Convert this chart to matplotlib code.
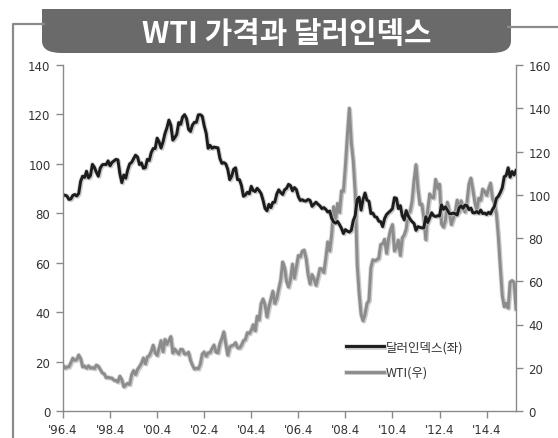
import matplotlib
matplotlib.use("Agg")
import matplotlib.pyplot as plt
import matplotlib.patheffects as pe
from matplotlib.patches import FancyBboxPatch, Rectangle
from matplotlib.lines import Line2D
import numpy as np

plt.rcParams['font.family'] = ['Noto Sans CJK KR', 'DejaVu Sans']

# monthly, 1996.04 - 2015.07 (month-end values)
dollar_index = [
    87.5, 87.3, 87.0, 85.6, 85.8, 87.2, 87.6, 87.0, 88.0,                     # 1996
    93.0, 95.0, 94.5, 97.0, 94.3, 95.3, 99.8, 98.6, 96.6, 95.0, 98.3, 99.6,   # 1997
    99.8, 99.7, 101.2, 99.2, 100.6, 101.2, 101.8, 101.6, 96.0, 92.4, 95.5, 94.2,  # 1998
    97.6, 100.0, 100.6, 102.1, 103.5, 102.8, 99.7, 100.4, 98.2, 98.5, 101.8, 101.4,  # 1999
    104.6, 106.2, 106.2, 110.4, 108.9, 106.4, 108.9, 112.3, 114.6, 117.7, 115.6, 109.6,  # 2000
    110.6, 112.0, 116.7, 116.0, 119.0, 119.9, 118.3, 114.0, 113.1, 115.7, 116.8, 116.8,  # 2001
    119.8, 119.9, 119.3, 115.4, 112.4, 106.3, 107.5, 106.3, 106.8, 106.6, 106.5, 102.2,  # 2002
    100.2, 100.5, 100.0, 97.8, 93.6, 95.0, 97.8, 98.4, 93.6, 93.6, 91.2, 86.9,  # 2003
    87.4, 88.5, 87.9, 90.9, 89.2, 88.8, 90.1, 89.2, 88.0, 85.3, 82.0, 81.0,     # 2004
    83.6, 82.3, 84.4, 84.5, 87.8, 89.5, 88.4, 87.6, 89.5, 90.1, 91.7, 91.2,     # 2005
    89.1, 90.4, 89.6, 86.7, 85.2, 85.5, 85.0, 85.0, 85.6, 85.2, 82.8, 83.7,     # 2006
    84.5, 83.7, 83.0, 81.9, 82.3, 81.6, 80.5, 80.9, 78.0, 76.5, 76.0, 76.7,     # 2007
    75.4, 73.9, 71.8, 73.4, 72.8, 72.4, 73.1, 77.0, 79.0, 85.6, 86.5, 81.3,     # 2008
    85.6, 88.2, 85.3, 84.9, 79.9, 80.1, 78.6, 78.4, 76.8, 76.6, 74.6, 77.9,     # 2009
    79.5, 80.3, 81.0, 81.9, 86.3, 86.1, 81.9, 83.1, 79.0, 77.3, 81.1, 79.0,     # 2010
    77.6, 76.6, 75.9, 73.1, 74.6, 74.3, 74.1, 74.1, 78.6, 76.3, 78.3, 80.2,     # 2011
    79.0, 78.7, 79.0, 78.9, 83.4, 81.6, 82.6, 81.3, 79.9, 79.8, 80.1, 79.8,     # 2012
    79.3, 82.2, 83.0, 82.0, 83.3, 83.1, 81.5, 82.1, 80.2, 80.2, 80.7, 80.0,     # 2013
    81.3, 79.9, 80.1, 79.5, 80.4, 79.8, 81.5, 82.8, 86.0, 86.9, 88.4, 90.3,     # 2014
    94.8, 95.3, 98.4, 94.6, 96.9, 95.5, 97.3,                                   # 2015
]

wti = [
    21.2, 19.8, 20.4, 20.4, 22.3, 24.4, 23.4, 23.8, 25.9,                       # 1996
    24.2, 20.4, 20.8, 19.8, 20.9, 19.8, 20.1, 19.6, 21.2, 20.7, 19.2, 17.6,     # 1997
    17.2, 15.4, 15.6, 15.3, 15.2, 14.2, 14.1, 13.4, 16.1, 14.4, 11.2, 12.1,     # 1998
    12.8, 12.3, 16.8, 18.7, 16.8, 19.3, 20.5, 22.1, 24.5, 21.8, 25.0, 25.6,     # 1999
    27.6, 30.4, 26.9, 25.7, 29.0, 32.5, 27.4, 33.1, 30.8, 32.7, 34.4, 26.8,     # 2000
    28.7, 27.4, 26.3, 28.5, 28.4, 26.3, 26.4, 27.2, 23.4, 21.2, 19.4, 19.8,     # 2001
    19.5, 21.7, 26.3, 27.3, 25.3, 26.9, 27.0, 28.9, 30.5, 27.2, 26.9, 31.2,     # 2002
    33.5, 36.6, 31.0, 25.8, 29.6, 30.2, 30.5, 31.6, 29.2, 29.1, 30.4, 32.5,     # 2003
    33.1, 36.2, 35.8, 37.4, 39.9, 37.1, 43.8, 42.1, 49.6, 51.8, 49.1, 43.5,     # 2004
    48.2, 51.8, 55.4, 49.7, 52.0, 56.5, 60.6, 68.9, 66.2, 59.8, 57.3, 61.0,     # 2005
    67.9, 61.4, 66.6, 71.9, 71.3, 73.9, 74.4, 70.3, 62.9, 58.7, 63.1, 61.1,     # 2006
    58.1, 61.8, 65.9, 65.7, 64.0, 70.7, 78.2, 74.0, 81.7, 94.5, 88.7, 96.0,     # 2007
    91.8, 101.8, 101.6, 113.5, 127.4, 140.0, 124.1, 115.5, 100.6, 67.8, 54.4, 44.6,  # 2008
    41.7, 44.8, 49.7, 51.1, 66.3, 69.9, 69.5, 70.0, 70.6, 77.0, 77.3, 79.4,     # 2009
    72.9, 79.7, 83.8, 86.2, 74.0, 75.6, 79.0, 71.9, 80.0, 81.4, 84.1, 91.4,     # 2010
    92.2, 97.0, 106.7, 113.9, 102.7, 95.4, 95.7, 88.8, 79.2, 93.2, 100.4, 98.8,  # 2011
    98.5, 107.1, 103.0, 104.9, 86.5, 85.0, 88.1, 96.5, 92.2, 86.2, 88.9, 91.8,  # 2012
    97.5, 92.1, 97.2, 93.5, 92.0, 96.6, 105.0, 107.7, 102.3, 96.4, 92.7, 98.4,  # 2013
    97.5, 102.6, 101.6, 99.7, 102.7, 105.4, 98.2, 96.0, 91.2, 80.5, 66.2, 53.3,  # 2014
    48.2, 49.8, 47.6, 59.6, 60.3, 59.5, 47.1,                                   # 2015
]

tick_labels = ["'96.4", "'98.4", "'00.4", "'02.4", "'04.4",
               "'06.4", "'08.4", "'10.4", "'12.4", "'14.4"]
title = "WTI 가격과 달러인덱스"
label_dollar = "달러인덱스(좌)"
label_wti = "WTI(우)"

W, H = 558, 439
fig = plt.figure(figsize=(W / 100, H / 100), dpi=100)


def fx(px):
    return px / W


def fy(py):
    return 1 - py / H


# outer frame lines
frame_col = "#8a8a8a"
fig.add_artist(Line2D([fx(13), fx(13), fx(44)], [fy(439), fy(25), fy(25)],
                      transform=fig.transFigure, color=frame_col, lw=1.6))
fig.add_artist(Line2D([fx(508), fx(558)], [fy(28), fy(28)],
                      transform=fig.transFigure, color=frame_col, lw=1.6))

# title banner with rounded bottom corners
banner = FancyBboxPatch((fx(42), fy(54)), fx(511) - fx(42), fy(-10) - fy(54),
                        boxstyle="round,pad=0,rounding_size=0.035",
                        transform=fig.transFigure, facecolor="#6a6a6a",
                        edgecolor="none", mutation_aspect=H / W)
fig.add_artist(banner)
fig.add_artist(Rectangle((0, fy(10)), 1, 1 - fy(10), transform=fig.transFigure,
                         facecolor="white", edgecolor="none"))
fig.text(fx(287), fy(34), title, color="white", fontsize=21.5, fontweight="bold",
         ha="center", va="center")

ax = fig.add_axes([fx(63), fy(412), fx(516) - fx(63), fy(66) - fy(412)])
ax2 = ax.twinx()

x = np.arange(len(dollar_index))

shadow = [pe.SimpleLineShadow(offset=(1.0, -1.0), shadow_color="#999999", alpha=0.45),
          pe.Stroke(linewidth=3.4, foreground="#c4c4c4", alpha=0.6), pe.Normal()]

l2, = ax2.plot(x, wti, color="#8c8c8c", lw=2.1, label=label_wti,
               path_effects=shadow, solid_joinstyle="round")
l1, = ax.plot(x, dollar_index, color="#1c1c1c", lw=2.1, label=label_dollar,
              path_effects=shadow, solid_joinstyle="round")

ax.set_zorder(ax2.get_zorder() + 1)
ax.patch.set_visible(False)

ax.set_xlim(0, len(x) - 1)
ax.set_ylim(0, 140)
ax2.set_ylim(0, 160)
ax.set_yticks(np.arange(0, 141, 20))
ax2.set_yticks(np.arange(0, 161, 20))
ax.set_xticks(np.arange(0, len(x), 24))
ax.set_xticklabels(tick_labels)

for a in (ax, ax2):
    a.spines["top"].set_visible(False)
    for s in a.spines.values():
        s.set_color("#8a8a8a")
        s.set_linewidth(1.0)
    a.tick_params(labelsize=8.5, colors="#333333", length=5, width=1,
                  direction="out", pad=4)
    for lab in a.get_xticklabels() + a.get_yticklabels():
        lab.set_family("DejaVu Sans")
ax.spines["right"].set_visible(False)
ax2.spines["left"].set_visible(False)
ax2.spines["bottom"].set_visible(False)
ax.tick_params(axis="both", color="#8a8a8a")
ax2.tick_params(axis="y", color="#8a8a8a")

leg = ax.legend([l1, l2], [label_dollar, label_wti], loc="lower left",
                bbox_to_anchor=(0.60, 0.06), frameon=False, fontsize=9,
                handlelength=3.0, handletextpad=0.2, labelspacing=1.0)
for t in leg.get_texts():
    t.set_color("#333333")

fig.savefig("out.png", dpi=100)
